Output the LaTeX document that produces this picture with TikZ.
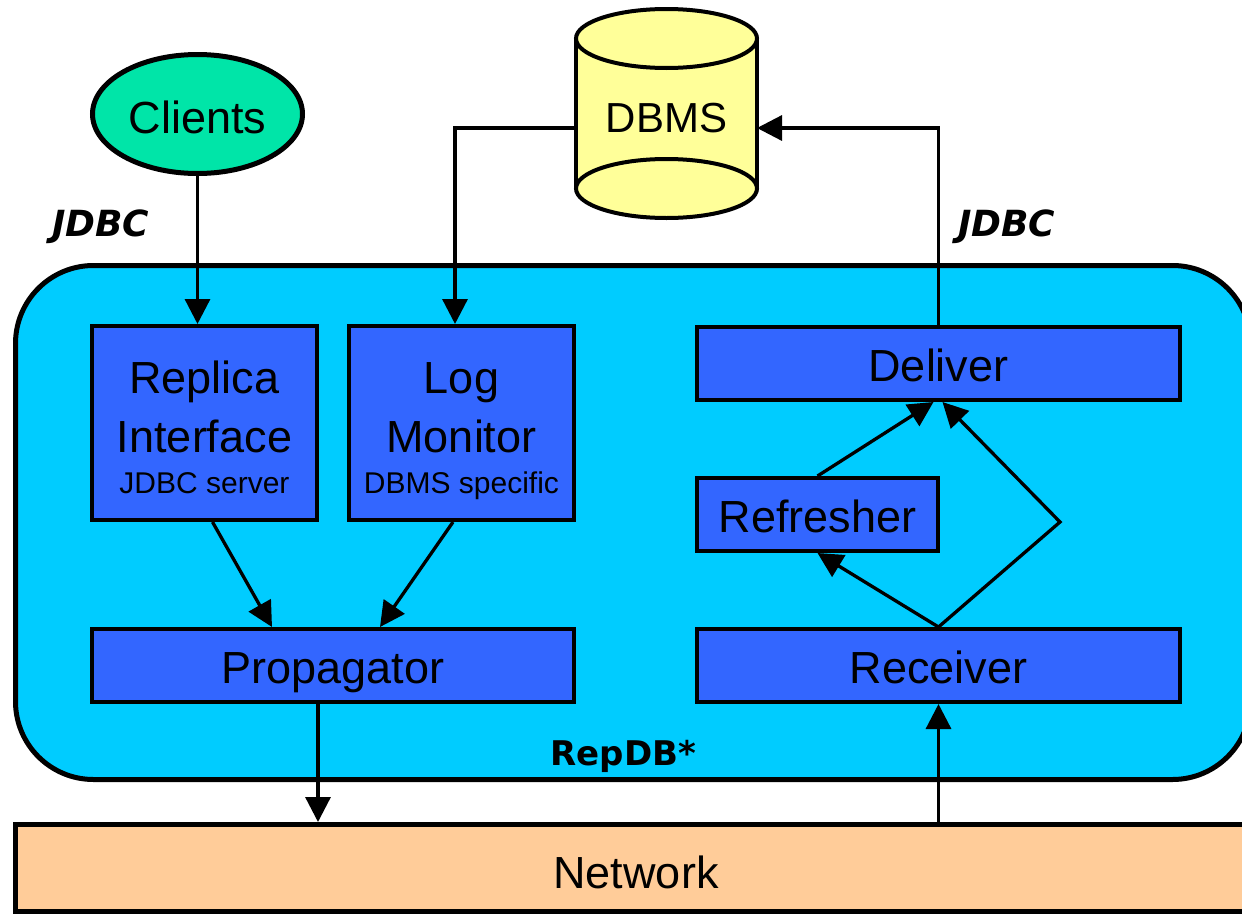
\documentclass[tikz,border=0pt]{standalone}
\usepackage{fontspec}
\setmainfont{Liberation Sans}
\newfontfamily\dvs{DejaVu Sans}
\usetikzlibrary{arrows.meta,shapes.geometric}
\definecolor{repcyan}{HTML}{00CCFF}
\definecolor{boxblue}{HTML}{3366FF}
\definecolor{clgreen}{HTML}{00E5A8}
\definecolor{dbyellow}{HTML}{FFFF99}
\definecolor{netorange}{HTML}{FFCC99}
\begin{document}
\begin{tikzpicture}[x=1pt,y=-1pt,
  box/.style={draw=black,line width=4pt,fill=boxblue,inner sep=0pt,
    font=\fontsize{45}{54}\selectfont,text height=35pt,text depth=0pt},
  arr/.style={line width=3.3pt,-{Triangle[length=25pt,width=25pt]}},
  conn/.style={line width=3.3pt},
  lbl/.style={anchor=base,inner sep=0pt,font=\fontsize{45}{54}\selectfont},
  sublbl/.style={anchor=base,inner sep=0pt,font=\fontsize{30}{35}\selectfont},
  boldlbl/.style={anchor=base,inner sep=0pt,font=\dvs\bfseries\fontsize{34}{40}\selectfont},
  jdbclbl/.style={anchor=base west,inner sep=0pt,font=\dvs\bfseries\itshape\fontsize{36}{42}\selectfont}]
\useasboundingbox (0,0) rectangle (1242,913);

% RepDB container
\node[draw=black,line width=5pt,fill=repcyan,rounded corners=78pt,
  minimum width=1235pt,minimum height=514pt,inner sep=0pt] (rep) at (633,522.5) {};
\node[boldlbl] (replbl) at (623.5,765) {RepDB*};

% Network
\node[draw=black,line width=5pt,fill=netorange,minimum width=1244pt,
  minimum height=87pt,inner sep=0pt] (nw) at (637.5,868) {};
\node[lbl] (nwlbl) at (636,888) {Network};

% Clients
\node[draw=black,line width=5pt,fill=clgreen,ellipse,minimum width=210pt,
  minimum height=119pt,inner sep=0pt] (cl) at (197.5,114) {};
\node[lbl] (cllbl) at (197.5,133) {Clients};

% DBMS cylinder
\fill[dbyellow] (576,38.5) rectangle (757,188.5);
\filldraw[fill=dbyellow,line width=4pt] (666.5,188.5) ellipse[x radius=90.5,y radius=29.5];
\draw[line width=4pt] (576,38.5) -- (576,188.5) (757,38.5) -- (757,188.5);
\filldraw[fill=dbyellow,line width=4pt] (666.5,38.5) ellipse[x radius=90.5,y radius=29.5];
\node[minimum width=181pt,minimum height=10pt,inner sep=0pt,outer sep=0pt] (db) at (666.5,128) {};
\node[lbl,font=\fontsize{42}{50}\selectfont] (dblbl) at (666.5,132) {DBMS};

% JDBC labels
\node[jdbclbl] (jdbc1) at (52,236) {JDBC};
\node[jdbclbl] (jdbc2) at (958,236) {JDBC};

% Boxes
\node[box,minimum width=225pt,minimum height=194pt] (ri) at (204.5,423) {};
\node[lbl] (ri1) at (204.5,393) {Replica};
\node[lbl] (ri2) at (204.5,452) {Interface};
\node[sublbl] (ri3) at (204.5,493) {JDBC server};

\node[box,minimum width=225pt,minimum height=194pt] (lm) at (461.5,423) {};
\node[lbl] (lm1) at (461.5,393) {Log};
\node[lbl] (lm2) at (461.5,452) {Monitor};
\node[sublbl] (lm3) at (461.5,493) {DBMS specific};

\node[box,minimum width=482pt,minimum height=73pt] (prop) at (333,665.5) {Propagator};
\node[box,minimum width=483pt,minimum height=73pt] (dl) at (938.5,363.5) {Deliver};
\node[box,minimum width=241pt,minimum height=73pt] (rf) at (817.5,514.5) {Refresher};
\node[box,minimum width=483pt,minimum height=73pt] (rc) at (938.5,665.5) {Receiver};

\coordinate (bend) at (1060,522);

% Connectors
\draw[arr] (cl.south) -- (cl.south |- ri.north);
\draw[arr] (db.west) -| ([xshift=-6.5pt]lm.north);
\draw[arr] (dl.north) |- (db.east);
\draw[arr] ([xshift=8pt]ri.south) -- ([xshift=-61pt]prop.north);
\draw[arr] ([xshift=-8.5pt]lm.south) -- ([xshift=47pt]prop.north);
\draw[arr] (rf.north) -- ([xshift=-5pt]dl.south);
\draw[arr] (rc.north) -- (bend) -- ([xshift=4pt]dl.south);
\draw[arr] (rc.north) -- (rf.south);
\draw[arr] ([xshift=-15pt]prop.south) -- ([xshift=-15pt]prop.south |- nw.north);
\draw[arr] (nw.north -| rc.south) -- (rc.south);
\end{tikzpicture}
\end{document}
